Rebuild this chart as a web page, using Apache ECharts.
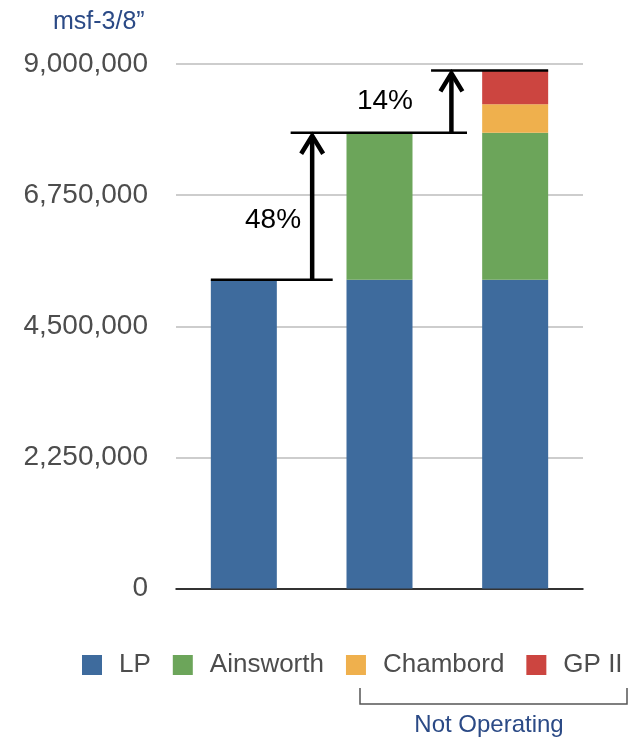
<!DOCTYPE html>
<html>
<head>
<meta charset="utf-8">
<script src="https://cdn.jsdelivr.net/npm/echarts@6/dist/echarts.min.js"></script>
<style>
  html, body { margin: 0; padding: 0; background: #fff; }
  #chart { width: 638px; height: 740px; }
</style>
</head>
<body>
<div id="chart"></div>
<script>
// ---- data ----
const categories = ['LP', 'LP + Ainsworth', 'LP + Ainsworth + Not Operating'];
const seriesNames = ['LP', 'Ainsworth', 'Chambord', 'GP II'];
const lpValues = [5300000, 5300000, 5300000];
const ainsworthValues = [null, 2520000, 2520000];
const chambordValues = [null, null, 490000];
const gp2Values = [null, null, 580000];
const growthLabels = ['48%', '14%'];
const yMin = 0;
const yMax = 9000000;
const yInterval = 2250000;
const unitLabel = 'msf-3/8\u201D';
const bracketLabel = 'Not Operating';

// ---- styles ----
const colors = ['#3e6b9d', '#6ca55a', '#efb04d', '#cc4540'];
const FONT = '"Liberation Sans", Arial, Helvetica, sans-serif';
const GREY = '#4d4d4d';
const NAVY = '#2b4a86';

const chart = echarts.init(document.getElementById('chart'), null, { renderer: 'canvas' });

const valueSets = [lpValues, ainsworthValues, chambordValues, gp2Values];
const series = seriesNames.map((name, i) => ({
  name: name,
  type: 'bar',
  stack: 'total',
  data: valueSets[i],
  barWidth: 66,
  itemStyle: { color: colors[i] },
  emphasis: { disabled: true },
  animation: false
}));

chart.setOption({
  animation: false,
  textStyle: { fontFamily: FONT },
  grid: { left: 176, right: 55, top: 64, bottom: 151.5, containLabel: false },
  xAxis: {
    type: 'category',
    data: categories,
    axisLine: { show: true, lineStyle: { color: '#000', width: 1.5 } },
    axisTick: { show: false },
    axisLabel: { show: false },
    splitLine: { show: false }
  },
  yAxis: {
    type: 'value',
    min: yMin,
    max: yMax,
    interval: yInterval,
    axisLine: { show: false },
    axisTick: { show: false },
    axisLabel: {
      color: GREY,
      fontSize: 28,
      fontFamily: FONT,
      margin: 28,
      formatter: v => v.toLocaleString('en-US')
    },
    splitLine: { lineStyle: { color: '#bdbdbd', width: 1.5 } }
  },
  legend: {
    data: seriesNames,
    left: 77,
    top: 647,
    width: 620,
    orient: 'horizontal',
    icon: 'rect',
    itemWidth: 20,
    itemHeight: 20,
    itemGap: 22,
    selectedMode: false,
    textStyle: { color: GREY, fontSize: 26, fontFamily: FONT, padding: [0, 0, 0, 12] }
  },
  series: series
});

// ---- annotations derived from the data through the axes ----
function px(catIdx) { return chart.convertToPixel({ xAxisIndex: 0 }, catIdx); }
function py(val) { return chart.convertToPixel({ yAxisIndex: 0 }, val); }
function total(idx) {
  return valueSets.reduce((s, arr) => s + (arr[idx] || 0), 0);
}

const c0 = px(0), c1 = px(1), c2 = px(2);
const band = c1 - c0;
const yL1 = py(total(0));
const yL2 = py(total(1));
const yL3 = py(total(2));

const lineStyle = { stroke: '#000', lineWidth: 2.5 };
const arrowStyle = { stroke: '#000', lineWidth: 4.5, fill: null, lineJoin: 'miter', lineCap: 'butt' };

function hLine(x1, x2, y) {
  return { type: 'line', shape: { x1: x1, y1: y, x2: x2, y2: y }, style: lineStyle, z: 100 };
}
function arrow(x, yBottom, yTop) {
  return [
    { type: 'line', shape: { x1: x, y1: yBottom, x2: x, y2: yTop + 3 }, style: arrowStyle, z: 100 },
    { type: 'polyline', shape: { points: [[x - 11, yTop + 21], [x, yTop + 3], [x + 11, yTop + 21]] }, style: arrowStyle, z: 100 }
  ];
}

const graphics = [
  hLine(c0 - 33, c0 + 0.655 * band, yL1),
  hLine(c0 + 0.345 * band, c1 + 0.645 * band, yL2),
  hLine(c1 + 0.38 * band, c2 + 33, yL3),
  ...arrow((c0 + c1) / 2 + 0.5, yL1, yL2),
  ...arrow(c1 + 0.53 * band, yL2, yL3),
  {
    type: 'text', z: 100,
    style: { text: growthLabels[0], x: c0 + 0.215 * band, y: (yL1 + yL2) / 2 + 14, fill: '#000',
      font: '28px ' + FONT, textAlign: 'center', textVerticalAlign: 'middle' }
  },
  {
    type: 'text', z: 100,
    style: { text: growthLabels[1], x: c1 + 0.04 * band, y: (yL2 + yL3) / 2, fill: '#000',
      font: '28px ' + FONT, textAlign: 'center', textVerticalAlign: 'middle' }
  },
  {
    type: 'text', z: 100,
    style: { text: unitLabel, x: 53, y: 22, fill: NAVY, font: '25px ' + FONT,
      textAlign: 'left', textVerticalAlign: 'middle' }
  },
  {
    type: 'polyline', z: 100,
    shape: { points: [[360, 688], [360, 704], [627, 704], [627, 688]] },
    style: { stroke: '#555', lineWidth: 1.5, fill: null }
  },
  {
    type: 'text', z: 100,
    style: { text: bracketLabel, x: 489, y: 725, fill: NAVY, font: '24px ' + FONT,
      textAlign: 'center', textVerticalAlign: 'middle' }
  }
];

chart.setOption({ graphic: graphics });
</script>
</body>
</html>
